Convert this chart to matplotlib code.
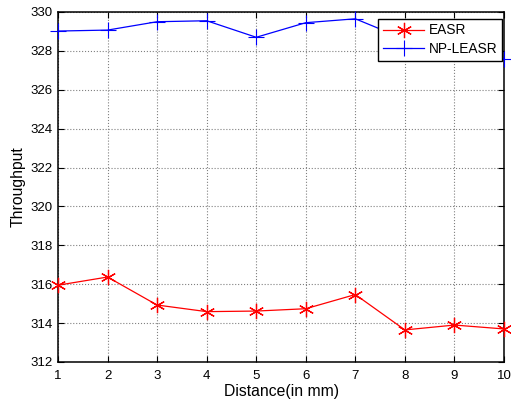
import numpy as np
import matplotlib
matplotlib.use('Agg')
import matplotlib.pyplot as plt

plt.rcParams['font.family'] = ['Liberation Sans', 'DejaVu Sans']

# distance values and throughput for both schemes
distance = [1, 2, 3, 4, 5, 6, 7, 8, 9, 10]
easr = [315.95, 316.37, 314.93, 314.59, 314.62, 314.74, 315.47, 313.65, 313.9, 313.7]
np_leasr = [329.02, 329.07, 329.5, 329.55, 328.7, 329.45, 329.65, 328.6, 328.35, 327.6]

fig = plt.figure(figsize=(5.11, 4.04), dpi=100)
ax = fig.add_axes([58/511, 1 - 362/404, 446/511, 350/404])

# matlab style asterisk marker
ax.plot(distance, easr, color='red', marker=(6, 2, 0), markersize=11, linewidth=0.9,
        markeredgewidth=0.9, label='EASR', clip_on=False, zorder=3)
ax.plot(distance, np_leasr, color='blue', marker='+', markersize=11, linewidth=0.9,
        markeredgewidth=0.8, label='NP-LEASR', clip_on=False, zorder=3)

ax.set_xlim(1, 10)
ax.set_ylim(312, 330)
ax.set_xticks(distance)
ax.set_yticks(np.arange(312, 331, 2))

ax.grid(True, color='#808080', linestyle=':', linewidth=0.8)
ax.tick_params(direction='in', top=True, right=True, labelsize=9.5, length=4, width=0.8, pad=4)
ax.tick_params(axis='x', pad=6)
for s in ax.spines.values():
    s.set_linewidth(1.1)

ax.set_xlabel('Distance(in mm)', fontsize=11.3, labelpad=1)
ax.set_ylabel('Throughput', fontsize=11.3, labelpad=3)

leg = ax.legend(loc='upper right', bbox_to_anchor=(0.9955, 0.981), fontsize=9.9,
                fancybox=False, edgecolor='black', framealpha=1, borderpad=0.35,
                handlelength=3.0, handletextpad=0.3, labelspacing=0.35, borderaxespad=0)
leg.get_frame().set_linewidth(1.0)
leg.set_zorder(5)

fig.savefig('out.png', dpi=100)
